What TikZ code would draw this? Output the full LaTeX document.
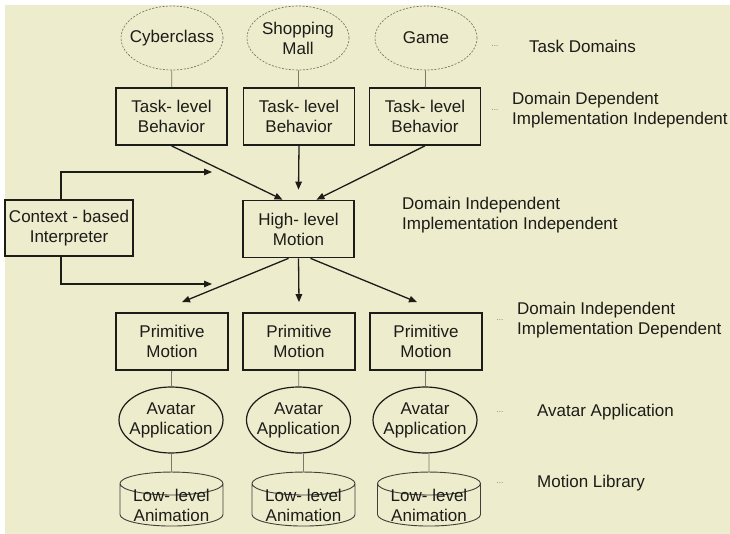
\documentclass[tikz,border=0pt]{standalone}
\usepackage{fontspec}
\setmainfont{Liberation Sans}
\usetikzlibrary{shapes.geometric,arrows.meta}
\definecolor{paper}{RGB}{237,236,205}
\definecolor{ink}{RGB}{28,28,24}
\definecolor{linkgray}{RGB}{120,120,108}

\begin{document}
\begin{tikzpicture}[x=1pt, y=-1pt,
  every node/.style={font=\fontsize{17}{20}\selectfont, text=ink, align=center},
  box/.style={draw=ink, line width=1.7pt, minimum width=111pt, minimum height=57pt, inner sep=0pt},
  taskdomain/.style={ellipse, draw=linkgray, dash pattern=on 2pt off 1.5pt, line width=0.7pt, minimum width=102pt, minimum height=64pt, inner xsep=-6pt, inner ysep=2pt},
  avatar/.style={ellipse, draw=ink, line width=1.2pt, minimum width=104pt, minimum height=66pt, inner xsep=-6pt, inner ysep=2pt},
  store/.style={cylinder, shape border rotate=90, aspect=0.3, draw=ink!85, line width=0.9pt, minimum width=103pt, minimum height=54pt, inner xsep=0pt, inner ysep=-7pt},
  link/.style={draw=linkgray, line width=0.8pt},
  arr/.style={draw=ink, line width=1.3pt, -{Triangle[length=8pt, width=6.5pt]}},
  note/.style={anchor=west, align=left, inner sep=0pt},
  dots/.style={text=linkgray, font=\fontsize{8}{8}\selectfont}
]
\useasboundingbox (0,0) rectangle (730,534);
\fill[paper] (5,5) rectangle (730,534);

% Task domains
\node[taskdomain] (dom1) at (172,38) {Cyberclass};
\node[taskdomain] (dom2) at (298,38) {Shopping\\Mall};
\node[taskdomain] (dom3) at (426,38) {Game};

% Task-level behaviors
\node[box] (task1) at (171.5,116.5) {Task- level\\Behavior};
\node[box] (task2) at (299,116.5) {Task- level\\Behavior};
\node[box] (task3) at (425,116.5) {Task- level\\Behavior};

% High-level motion and the interpreter
\node[box] (high) at (298.5,229) {High- level\\Motion};
\node[box, minimum width=128pt, minimum height=56pt] (ctx) at (69,228) {Context - based\\Interpreter};

% Primitive motions
\node[box, minimum width=112pt] (prim1) at (172,341.5) {Primitive\\Motion};
\node[box, minimum width=112pt] (prim2) at (299,341.5) {Primitive\\Motion};
\node[box, minimum width=112pt] (prim3) at (426,341.5) {Primitive\\Motion};

% Avatar applications
\node[avatar] (av1) at (171,420) {Avatar\\Application};
\node[avatar] (av2) at (298.5,420) {Avatar\\Application};
\node[avatar] (av3) at (425,420) {Avatar\\Application};

% Motion library
\node[store] (cyl1) at (171.5,505) {Low- level\\Animation};
\node[store] (cyl2) at (303.5,505) {Low- level\\Animation};
\node[store] (cyl3) at (429,505) {Low- level\\Animation};

% Plain links
\foreach \i in {1,2,3} {
    \draw[link] (dom\i) -- (task\i);
    \draw[link] (prim\i) -- (av\i);
    \draw[link] (cyl\i |- av\i.south) -- (cyl\i);
}

% Arrows into high-level motion
\draw[arr] (task1.south) -- ([xshift=-16pt]high.north);
\draw[arr] (task2.south) -- ([yshift=10pt]high.north);
\draw[arr] (task3.south) -- ([xshift=18pt]high.north);

% Interpreter feeds
\coordinate (ctxup) at (212,172);
\coordinate (ctxdown) at (212,284);
\draw[arr] ([xshift=-8pt]ctx.north) |- (ctxup);
\draw[arr] ([xshift=-8pt]ctx.south) |- (ctxdown);

% Arrows down to primitive motions
\draw[arr] ([xshift=-10pt]high.south) -- ([xshift=10pt, yshift=10pt]prim1.north);
\draw[arr] (high.south) -- ([yshift=10pt]prim2.north);
\draw[arr] ([xshift=12pt]high.south) -- ([xshift=-9pt, yshift=10pt]prim3.north);

% Level notes
\node[dots] at (495,46) {...};
\node[note] (ntask) at (529,46) {Task Domains};
\node[dots] at (495,110) {...};
\node[note] (ndep) at (512,110) {Domain Dependent\\Implementation Independent};
\node[note] (nhigh) at (402,215) {Domain Independent\\Implementation Independent};
\node[dots] at (500,320) {...};
\node[note] (nprim) at (517,320) {Domain Independent\\Implementation Dependent};
\node[dots] at (500,412) {...};
\node[note] (navatar) at (537,412) {Avatar Application};
\node[dots] at (500,483) {...};
\node[note] (nlib) at (537,483) {Motion Library};
\end{tikzpicture}
\end{document}
